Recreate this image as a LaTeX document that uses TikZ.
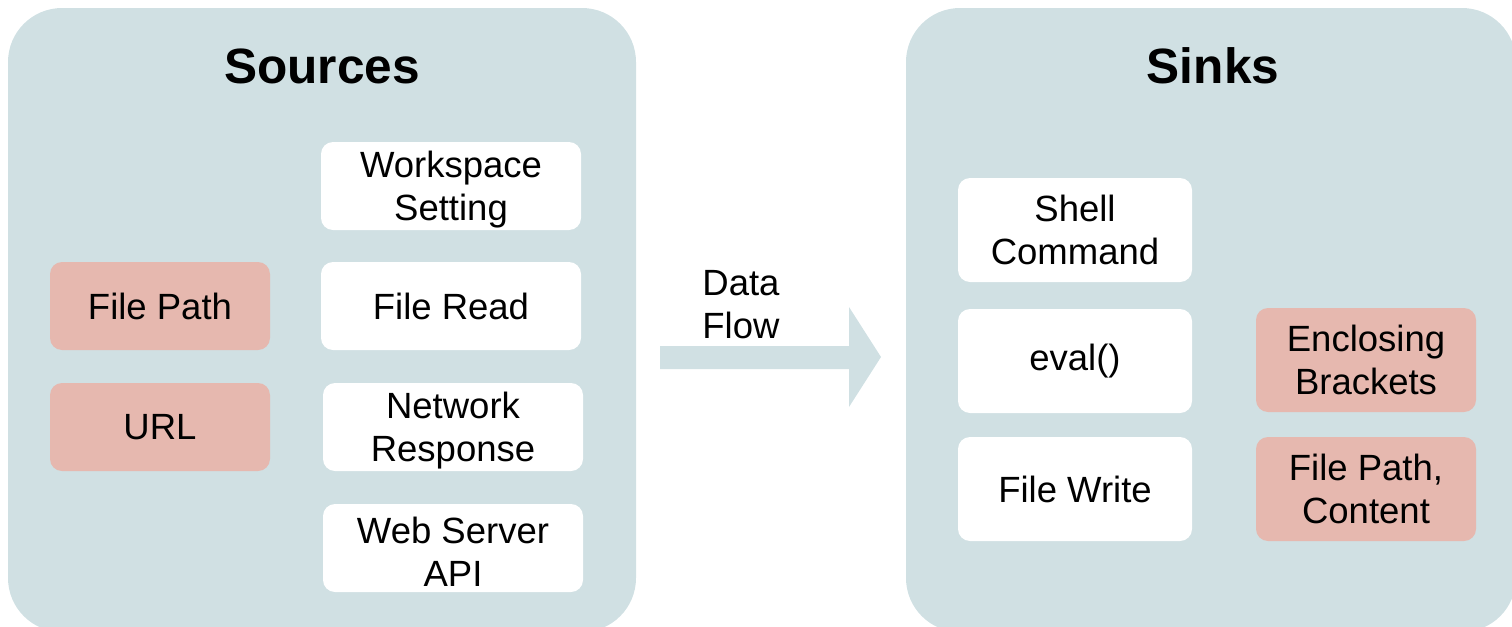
\documentclass[tikz,border=0pt]{standalone}
\usepackage{fontspec}
\setmainfont{Liberation Sans}
\definecolor{panelc}{HTML}{D0E0E3}
\definecolor{redc}{HTML}{E6B8AF}
\begin{document}
\begin{tikzpicture}[x=0.5pt,y=-0.5pt,
  panel/.style={fill=panelc, rounded corners=27pt, minimum width=#1, minimum height=312pt, inner sep=0pt},
  title/.style={font=\fontsize{24.8}{28}\selectfont\bfseries},
  wbox/.style={fill=white, rounded corners=6pt, minimum width=#1, minimum height=44pt, inner sep=0pt, align=center, font=\fontsize{18.25}{21.5}\selectfont},
  rbox/.style={wbox=#1, fill=redc},
  lt/.style={align=center, inner sep=0pt, font=\fontsize{18.25}{21.5}\selectfont, yshift=-2pt},
  lbl/.style={font=\fontsize{18.25}{21.5}\selectfont, align=left, inner sep=0pt}]
\useasboundingbox (0,0) rectangle (1512,627);
% panels
\node[panel=314pt] (src) at (322,320) {};
\node[panel=305pt] (snk) at (1211,320) {};
\node[title] (srct) at (322,66) {Sources};
\node[title] (snkt) at (1213,66) {Sinks};
% sources
\node[wbox=130pt, label={[lt]center:{Workspace\\Setting}}] (ws) at (451,186) {};
\node[wbox=130pt] (fr) at (451,306) {File Read};
\node[wbox=130pt, label={[lt]center:{Network\\Response}}] (nr) at (453,427) {};
\node[wbox=130pt, label={[lt]center:{Web Server\\API}}] (wa) at (453,548) {};
\node[rbox=110pt] (fp) at (160,306) {File Path};
\node[rbox=110pt] (url) at (160,427) {URL};
% sinks
\node[wbox=117pt, minimum height=52pt] (sc) at (1075,230) {Shell\\Command};
\node[wbox=117pt, minimum height=52pt] (ev) at (1075,361) {eval()};
\node[wbox=117pt, minimum height=52pt] (fw) at (1075,489) {File Write};
\node[rbox=110pt, minimum height=52pt] (eb) at (1366,360) {Enclosing\\Brackets};
\node[rbox=110pt, minimum height=52pt] (fpc) at (1366,489) {File Path,\\Content};
% data flow arrow
\coordinate (a1) at (660,346);
\fill[panelc] (a1) -- (849,346) -- (849,307) -- (881,357) -- (849,407) -- (849,369) -- (660,369) -- cycle;
\node[lbl, anchor=west] (df) at (702,305) {Data\\Flow};
\end{tikzpicture}
\end{document}
